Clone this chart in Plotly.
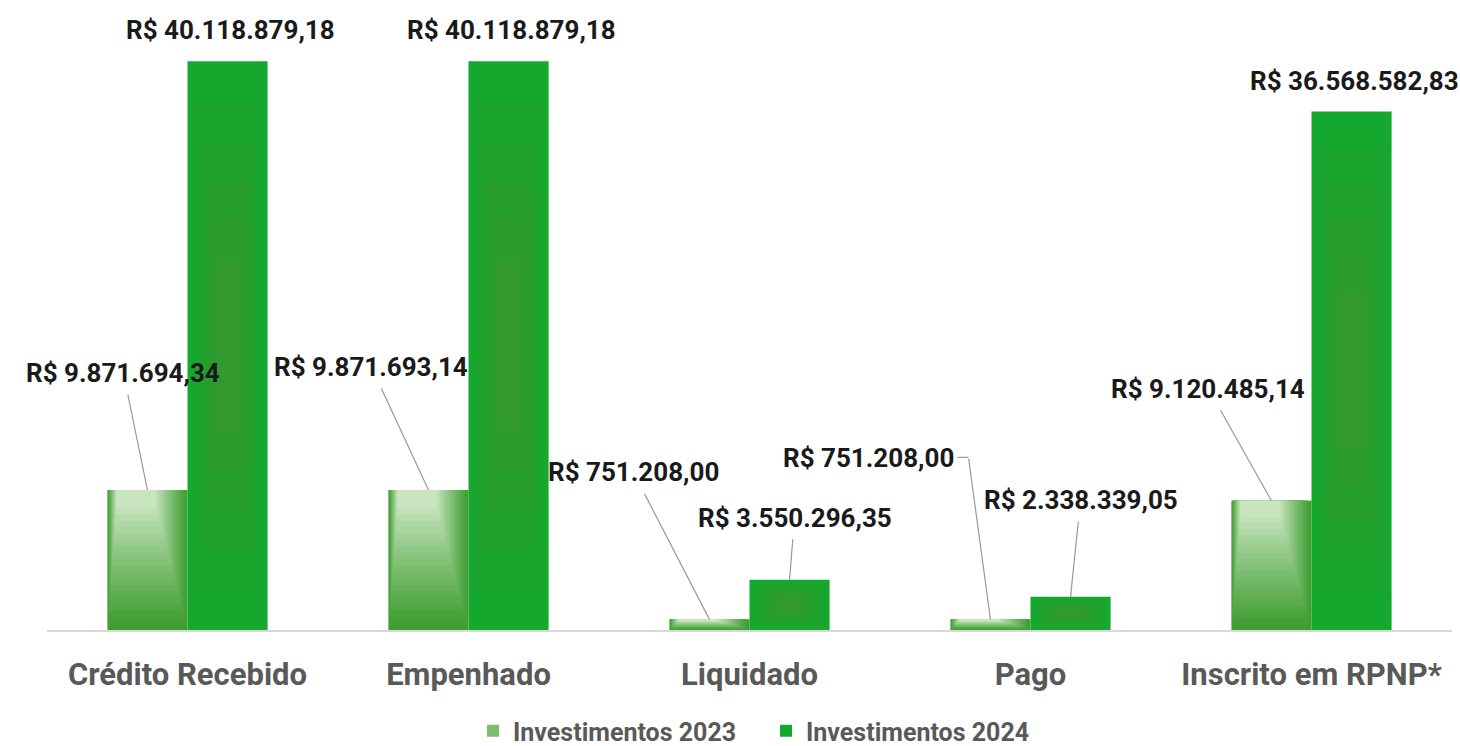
import plotly.graph_objects as go

categories = ["Crédito Recebido", "Empenhado", "Liquidado", "Pago", "Inscrito em RPNP*"]
inv_2023 = [9871694.34, 9871693.14, 751208.00, 751208.00, 9120485.14]
inv_2024 = [40118879.18, 40118879.18, 3550296.35, 2338339.05, 36568582.83]
series_names = ["Investimentos 2023", "Investimentos 2024"]

# label offsets in pixels (ax, ay) relative to bar top
off_2023 = [(-24, -117), (-57, -123), (-76, -147), (-122, -161), (-63, -112)]
off_2024 = [(3, -31), (3, -31), (5, -62), (10, -97), (3, -30)]
leader_2023 = [True, True, True, False, True]
leader_2024 = [False, False, True, True, False]


def brl(v):
    s = f"{v:,.2f}"
    s = s.replace(",", "X").replace(".", ",").replace("X", ".")
    return "R$ " + s


W = 0.285
dark = (64, 158, 50)
light = (200, 229, 191)
c2024_edge = (20, 168, 46)
c2024_mid = (50, 154, 46)
gray = "#595959"
FONT = "Roboto"
LEAD = "#9a9a9a"

fig = go.Figure()

# 2023 series: layered bars imitating the soft gradient fill (light top-left)
N = 20
for k in range(N):
    t = k / (N - 1) * 0.92
    s = (t / 0.92) ** 1.1
    w = W * (1 - 0.55 * t)
    col = tuple(int(dark[j] + (light[j] - dark[j]) * s) for j in range(3))
    bases = [v * 0.95 * t for v in inv_2023]
    heights = [v - b for v, b in zip(inv_2023, bases)]
    fig.add_trace(go.Bar(
        x=categories, y=heights, base=bases, width=w,
        offset=-W + 0.12 * W * t,
        marker=dict(color=f"rgb{col}", line=dict(width=0)),
        name=series_names[0], showlegend=(k == 9), legendrank=1,
        hoverinfo="skip",
    ))

# 2024 series: solid with slightly darker centre
M = 6
for k in range(M):
    t = k / (M - 1) * 0.7
    w = W * (1 - t)
    col = tuple(int(c2024_edge[j] + (c2024_mid[j] - c2024_edge[j]) * (k / (M - 1))) for j in range(3))
    bases = [v * 0.5 * t for v in inv_2024]
    heights = [v * (1 - 0.5 * t) - b for v, b in zip(inv_2024, bases)]
    fig.add_trace(go.Bar(
        x=categories, y=heights, base=bases, width=w,
        offset=W / 2 - w / 2,
        marker=dict(color=f"rgb{col}", line=dict(width=0)),
        name=series_names[1], showlegend=(k == 0), legendrank=2,
        hoverinfo="skip",
    ))

label_font = dict(family=FONT, size=26, color="#1a1a1a", weight="bold")
annotations = []
for i, v in enumerate(inv_2023):
    ax, ay = off_2023[i]
    annotations.append(dict(
        x=i - W / 2, y=v, xref="x", yref="y", text=brl(v),
        showarrow=True, arrowhead=0, arrowwidth=1.2,
        arrowcolor=LEAD if leader_2023[i] else "rgba(0,0,0,0)",
        ax=ax, ay=ay, standoff=0, borderpad=6, font=label_font,
    ))
for i, v in enumerate(inv_2024):
    ax, ay = off_2024[i]
    annotations.append(dict(
        x=i + W / 2, y=v, xref="x", yref="y", text=brl(v),
        showarrow=True, arrowhead=0, arrowwidth=1.2,
        arrowcolor=LEAD if leader_2024[i] else "rgba(0,0,0,0)",
        ax=ax, ay=ay, standoff=0, borderpad=6, font=label_font,
    ))

# elbow leader for the "Pago" 2023 label
pago = categories.index("Pago")
annotations.append(dict(
    x=pago - W / 2, y=inv_2023[pago], xref="x", yref="y", text="",
    showarrow=True, arrowhead=0, arrowwidth=1.2, arrowcolor=LEAD,
    ax=-22, ay=-162, standoff=0,
))
shapes = [dict(
    type="line", xref="x", yref="y", xsizemode="pixel", ysizemode="pixel",
    xanchor=pago - W / 2, yanchor=inv_2023[pago],
    x0=-33, x1=-22, y0=162, y1=162,
    line=dict(color=LEAD, width=1.2),
)]

fig.update_layout(
    width=1460, height=746,
    barmode="overlay",
    plot_bgcolor="white", paper_bgcolor="white",
    margin=dict(l=47, r=8, t=0, b=116),
    annotations=annotations,
    shapes=shapes,
    legend=dict(
        orientation="h", x=(487 + 1045) / 2 / 1460, xanchor="center", xref="container",
        y=1 - 731 / 746, yanchor="middle", yref="container",
        font=dict(family=FONT, size=25, color=gray, weight="bold"),
        itemwidth=30, traceorder="normal",
        entrywidth=248, entrywidthmode="pixels",
    ),
    xaxis=dict(
        type="category", categoryorder="array", categoryarray=categories,
        range=[-0.5, 4.5], showline=True, linecolor="#d9d9d9", linewidth=1.5,
        showgrid=False, ticks="", ticklabelstandoff=16,
        tickfont=dict(family=FONT, size=31, color=gray, weight="bold"),
    ),
    yaxis=dict(range=[0, 44.43e6], visible=False, showgrid=False, zeroline=False),
    showlegend=True,
)

fig.write_html("out.html", post_script="document.body.style.margin='0';",
               config={"displayModeBar": False})
